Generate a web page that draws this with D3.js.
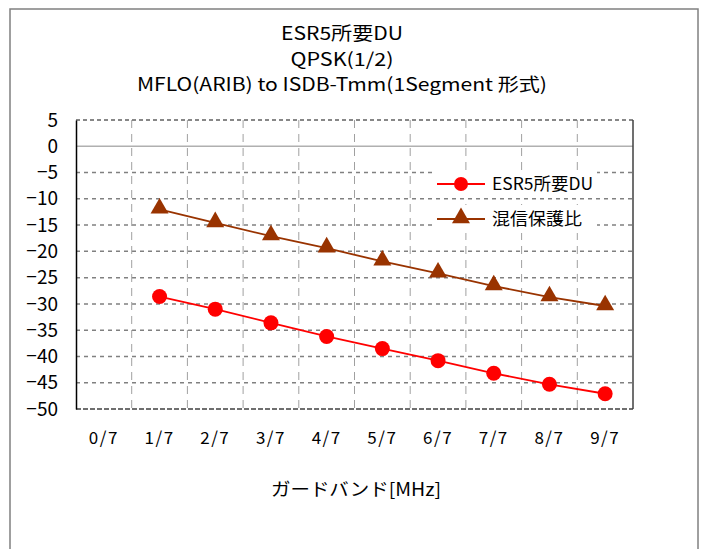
<!DOCTYPE html>
<html>
<head>
<meta charset="utf-8">
<script src="https://cdn.jsdelivr.net/npm/d3@7"></script>
<style>
  body { margin: 0; background: #fff; }
  text { font-family: "Noto Sans CJK JP", "Noto Sans", sans-serif; fill: #000; }
</style>
</head>
<body>
<div id="chart"></div>
<script>
const titleLines = ["ESR5所要DU", "QPSK(1/2)", "MFLO(ARIB) to ISDB-Tmm(1Segment 形式)"];
const categories = ["0/7", "1/7", "2/7", "3/7", "4/7", "5/7", "6/7", "7/7", "8/7", "9/7"];
const duValues = [null, -28.6, -31.0, -33.6, -36.2, -38.5, -40.8, -43.2, -45.3, -47.1];
const protValues = [null, -12.0, -14.6, -17.1, -19.4, -21.9, -24.2, -26.6, -28.7, -30.4];
const yTicks = [5, 0, -5, -10, -15, -20, -25, -30, -35, -40, -45, -50];
const seriesNames = ["ESR5所要DU", "混信保護比"];
const xTitle = "ガードバンド[MHz]";

const width = 709, height = 549;
const plot = { left: 76, right: 633, top: 120, bottom: 409 };
const titleWidths = [122, 103, 410];

const svg = d3.select("#chart").append("svg")
  .attr("width", width)
  .attr("height", height);

// outer frame
svg.append("rect")
  .attr("x", 10).attr("y", 9)
  .attr("width", 688).attr("height", 560)
  .attr("fill", "none")
  .attr("stroke", "#808080")
  .attr("stroke-width", 1.5);

// titles
svg.selectAll(".title")
  .data(titleLines)
  .join("text")
  .attr("class", "title")
  .attr("x", 342)
  .attr("y", (d, i) => 40 + i * 25.5)
  .attr("text-anchor", "middle")
  .attr("font-size", 18)
  .attr("textLength", (d, i) => titleWidths[i])
  .attr("lengthAdjust", "spacingAndGlyphs")
  .text(d => d);

const x = d3.scaleBand()
  .domain(categories)
  .range([plot.left, plot.right]);

const y = d3.scaleLinear()
  .domain([-50, 5])
  .range([plot.bottom, plot.top]);

// horizontal gridlines
svg.append("g")
  .selectAll("line")
  .data(yTicks.filter(d => d !== 5 && d !== -50))
  .join("line")
  .attr("x1", plot.left).attr("x2", plot.right)
  .attr("y1", d => y(d)).attr("y2", d => y(d))
  .attr("stroke", d => d === 0 ? "#b0b0b0" : "#808080")
  .attr("stroke-width", 1.5)
  .attr("stroke-dasharray", d => d === 0 ? null : "4,4");

// vertical gridlines at band edges
svg.append("g")
  .selectAll("line")
  .data(categories.slice(1))
  .join("line")
  .attr("x1", d => x(d)).attr("x2", d => x(d))
  .attr("y1", plot.top).attr("y2", plot.bottom)
  .attr("stroke", "#a0a0a0")
  .attr("stroke-width", 1)
  .attr("stroke-dasharray", "8,6");

// plot border
svg.append("line")
  .attr("x1", plot.left).attr("x2", plot.right)
  .attr("y1", plot.top).attr("y2", plot.top)
  .attr("stroke", "#606060").attr("stroke-width", 1.5)
  .attr("stroke-dasharray", "4,3");
svg.append("line")
  .attr("x1", plot.left).attr("x2", plot.right)
  .attr("y1", plot.bottom).attr("y2", plot.bottom)
  .attr("stroke", "#404040").attr("stroke-width", 1.5)
  .attr("stroke-dasharray", "5,2");
svg.append("line")
  .attr("x1", plot.right).attr("x2", plot.right)
  .attr("y1", plot.top).attr("y2", plot.bottom)
  .attr("stroke", "#404040").attr("stroke-width", 1.5);

// y axis
const yAxis = svg.append("g")
  .attr("transform", `translate(${plot.left},0)`)
  .call(d3.axisLeft(y).tickValues(yTicks).tickSize(0).tickPadding(18)
    .tickFormat(d => d < 0 ? "\u2212" + Math.abs(d) : d));
yAxis.select(".domain").attr("stroke", "#000").attr("stroke-width", 1.5);
yAxis.selectAll("text")
  .attr("font-size", 19)
  .attr("font-family", "'Liberation Sans', Arial, sans-serif")
  .attr("fill", "#000");

// x axis labels
const xAxis = svg.append("g")
  .attr("transform", `translate(0,${plot.bottom})`)
  .call(d3.axisBottom(x).tickSize(0).tickPadding(23));
xAxis.select(".domain").remove();
xAxis.selectAll("text")
  .attr("font-size", 17)
  .attr("font-family", "'Liberation Sans', Arial, sans-serif")
  .attr("letter-spacing", 1.5)
  .attr("fill", "#000");

svg.append("text")
  .attr("x", 356)
  .attr("y", 496)
  .attr("text-anchor", "middle")
  .attr("font-size", 18)
  .attr("textLength", 170)
  .attr("lengthAdjust", "spacingAndGlyphs")
  .text(xTitle);

const cx = d => x(d) + x.bandwidth() / 2;
const line = d3.line()
  .defined(d => d.v !== null)
  .x(d => cx(d.c))
  .y(d => y(d.v));

const duData = categories.map((c, i) => ({ c, v: duValues[i] }));
const protData = categories.map((c, i) => ({ c, v: protValues[i] }));

const red = "#ff0000", brown = "#993300";
const tri = d3.symbol().type(d3.symbolTriangle).size(140);

svg.append("path")
  .datum(protData)
  .attr("d", line)
  .attr("fill", "none")
  .attr("stroke", brown)
  .attr("stroke-width", 1.8);
svg.append("g")
  .selectAll("path")
  .data(protData.filter(d => d.v !== null))
  .join("path")
  .attr("d", tri)
  .attr("transform", d => `translate(${cx(d.c)},${y(d.v) - 1})`)
  .attr("fill", brown);

svg.append("path")
  .datum(duData)
  .attr("d", line)
  .attr("fill", "none")
  .attr("stroke", red)
  .attr("stroke-width", 1.8);
svg.append("g")
  .selectAll("circle")
  .data(duData.filter(d => d.v !== null))
  .join("circle")
  .attr("cx", d => cx(d.c))
  .attr("cy", d => y(d.v))
  .attr("r", 7.5)
  .attr("fill", red);

// legend
const legend = svg.append("g").attr("transform", "translate(437,184)");
const legendItems = legend.selectAll("g")
  .data(seriesNames)
  .join("g")
  .attr("transform", (d, i) => `translate(0,${i * 35})`);
legendItems.append("rect")
  .attr("x", -4).attr("y", -14).attr("width", 164).attr("height", 28)
  .attr("fill", "#fff");
legendItems.append("line")
  .attr("x1", 0).attr("x2", 48)
  .attr("stroke", (d, i) => i === 0 ? red : brown)
  .attr("stroke-width", 1.8);
legendItems.filter((d, i) => i === 0).append("circle")
  .attr("cx", 24).attr("r", 7).attr("fill", red);
legendItems.filter((d, i) => i === 1).append("path")
  .attr("d", tri)
  .attr("transform", "translate(24,-1)")
  .attr("fill", brown);
legendItems.append("text")
  .attr("x", 55)
  .attr("dy", "0.35em")
  .attr("font-size", 17)
  .attr("textLength", (d, i) => i === 0 ? 101 : 90)
  .attr("lengthAdjust", "spacingAndGlyphs")
  .text(d => d);
</script>
</body>
</html>
